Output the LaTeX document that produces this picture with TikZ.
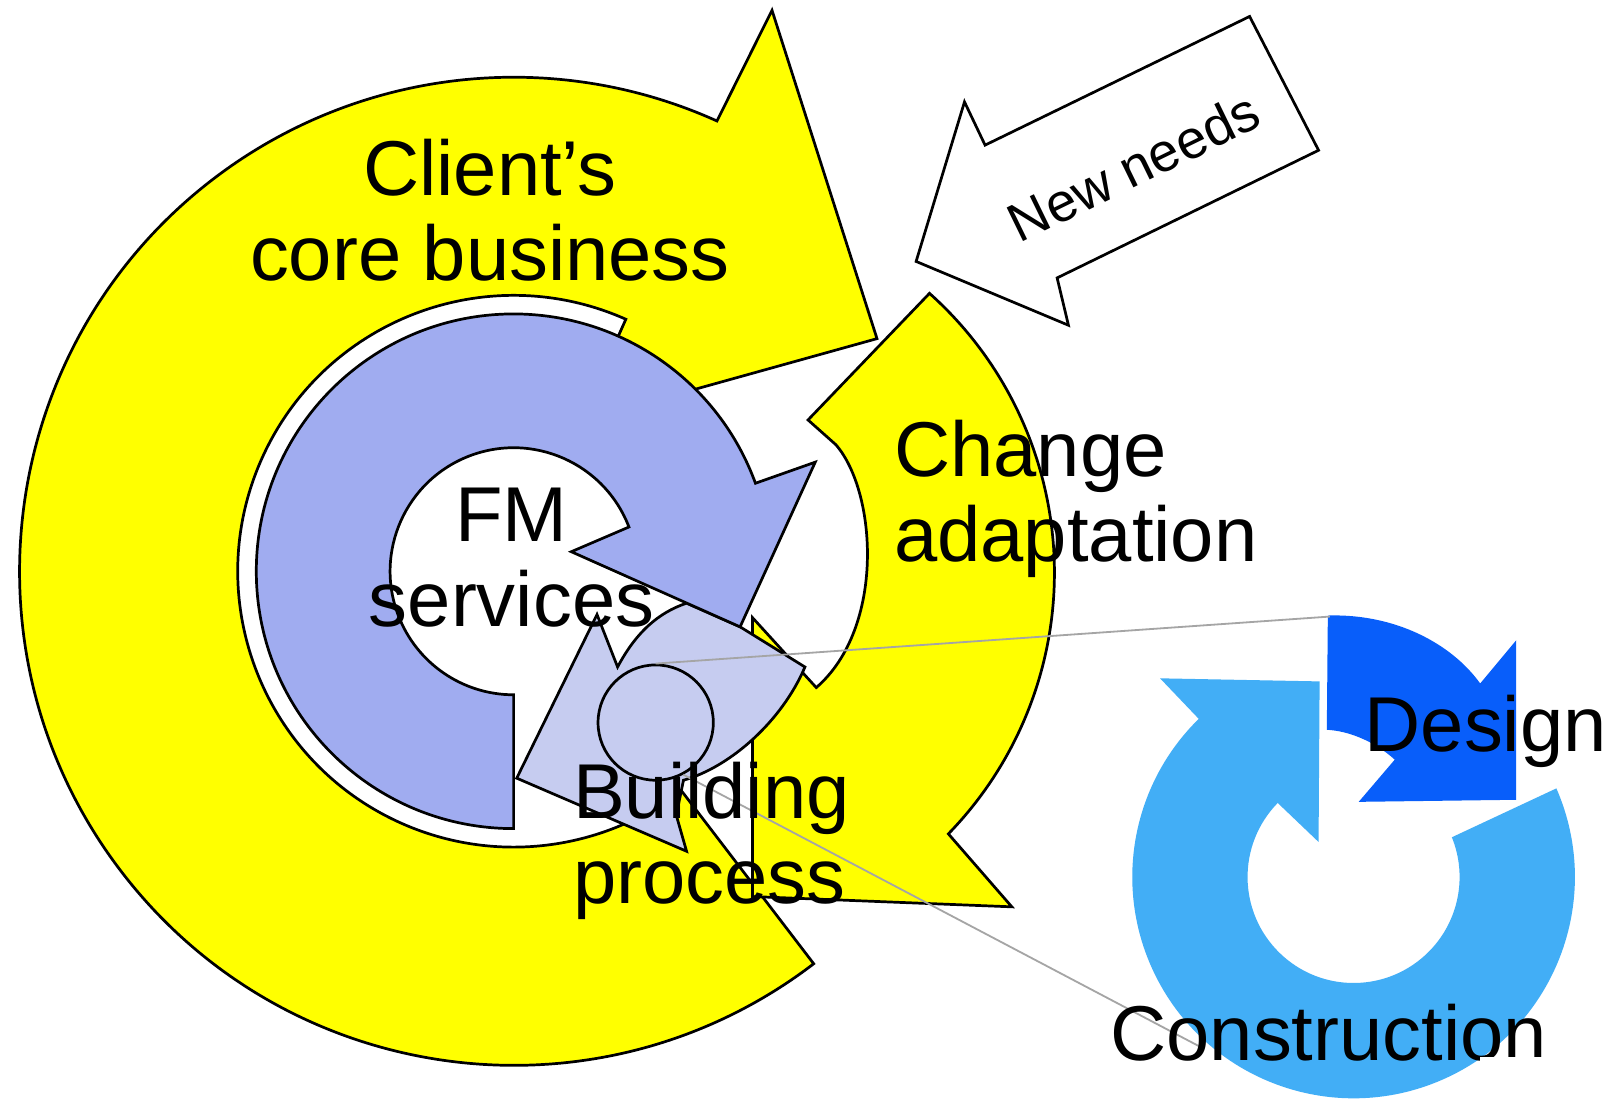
\documentclass[tikz,border=0pt]{standalone}
\usepackage{fontspec}
\setmainfont{Liberation Sans}
\usepackage{tikz}

\definecolor{clientyellow}{RGB}{255,255,0}
\definecolor{fmblue}{RGB}{160,172,240}
\definecolor{bpblue}{RGB}{198,204,240}
\definecolor{designblue}{RGB}{8,94,250}
\definecolor{constrblue}{RGB}{66,174,246}
\definecolor{linkgrey}{RGB}{165,165,165}

\begin{document}
\begin{tikzpicture}[x=0.1mm,y=-0.1mm,
  every node/.style={inner sep=0pt,font=\fontsize{21.5}{23.5}\selectfont},
  outlined/.style={draw=black,line width=0.75pt},
  link/.style={draw=linkgrey,line width=0.5pt}]
  \useasboundingbox (0,0) rectangle (1568,1071);
  \fill[white] (0,0) rectangle (1568,1071);
  \coordinate (cen) at (499,555);
  %client's core business
  \filldraw[outlined,fill=clientyellow]
    ([shift={(cen)}]52.6:480) arc[start angle=52.6,end angle=294.3,radius=480]
    -- (750,10) -- (852,329) -- ([shift={(cen)}]295:162)
    -- ([shift={(cen)}]294:240) -- ([shift={(cen)}]294:268)
    arc[start angle=294,end angle=52.6,radius=268] -- cycle;
  %change adaptation
  \filldraw[outlined,fill=clientyellow]
    (903,285) arc[start angle=-48.2,end angle=44.2,radius=364]
    -- (983,881) -- (731,871) -- (731,600) -- (793,668)
    .. controls (860,610) and (852,478) .. (812,432) -- (785,408) -- cycle;
  %building process
  \filldraw[outlined,fill=bpblue]
    (580,597) -- (600,648) .. controls (618,614) and (640,595) .. (667,586)
    -- (719,609) -- (782,648) .. controls (760,700) and (710,745) .. (664,758)
    -- (657,792) -- (667,827) -- (502,756) -- cycle;
  %FM services
  \filldraw[outlined,fill=fmblue]
    ([shift={(cen)}]90:250) arc[start angle=90,end angle=340,radius=250]
    -- (792,449) -- (719,609) -- (555,536) -- ([shift={(cen)}]339:120)
    arc[start angle=339,end angle=90,radius=120] -- cycle;
  \node[circle,outlined,fill=bpblue,minimum size=11.2mm] (bldg) at (637,702) {};
  %new needs
  \filldraw[outlined,fill=white]
    (890,254) -- (937,99) -- (957,141) -- (1214,16) -- (1281,146)
    -- (1027,270) -- (1038,316) -- cycle;
  %design / construction
  \fill[constrblue]
    (1127,659) -- (1282,662) -- (1281,818) -- ([shift={(1315,852)}]224.3:103)
    arc[start angle=224.3,end angle=-22,radius=103]
    -- ([shift={(1315,852)}]-23.6:215)
    arc[start angle=-23.6,end angle=225.6,radius=215] -- cycle;
  \fill[designblue]
    (1290,598) .. controls (1355,596) and (1410,625) .. (1438,664)
    -- (1473,622) -- (1473,777) -- (1320,779) -- (1355,738)
    .. controls (1335,720) and (1310,710) .. (1289,709) -- cycle;
  \coordinate (dsgcorner) at (1292,599);
  \coordinate (cnsend) at (1166,1017);
  \draw[link] (bldg.north) -- (dsgcorner);
  \draw[link] (bldg.-62) -- (cnsend);
  %labels
  \node[align=center] (client) at (476,204) {Client’s\\core business};
  \node[align=center] (fm) at (497,542) {FM\\services};
  \node[align=left,anchor=west] (change) at (868,485) {Change\\adaptation};
  \node[align=left,anchor=west] (building) at (556,817) {Building\\process};
  \node[anchor=base west] (design) at (1325,730) {Design};
  \node[anchor=base west] (constr) at (1078,1030) {Construction};
  \node[rotate=26,font=\fontsize{15}{17}\selectfont] (needs) at (1101,162) {New needs};
  \fill[white] (1438,1027) rectangle (1568,1071);
\end{tikzpicture}
\end{document}
